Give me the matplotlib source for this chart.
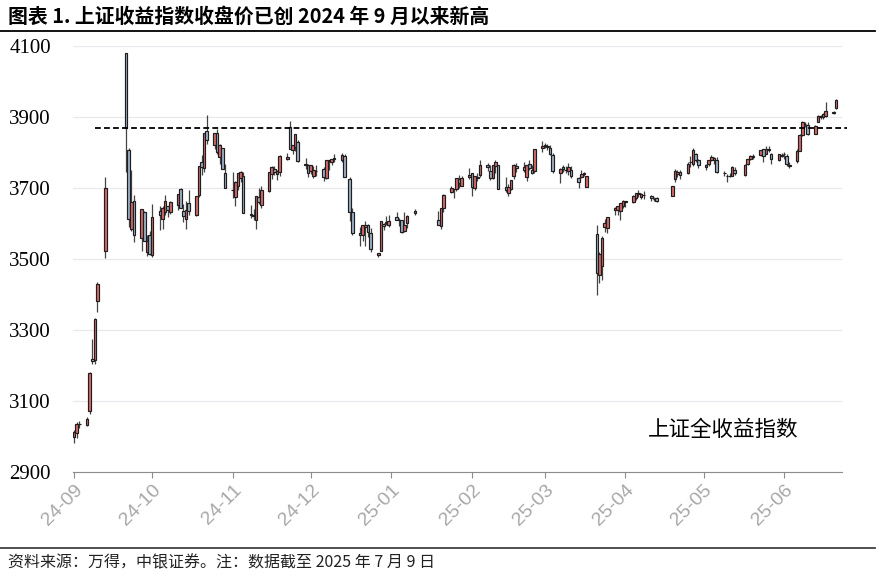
import matplotlib
matplotlib.use("Agg")
import matplotlib.pyplot as plt
import matplotlib.dates as mdates
from matplotlib.lines import Line2D
import numpy as np
import pandas as pd

## Daily candles of the index
dates = [
    # 2024-09
    "2024-09-18", "2024-09-19", "2024-09-20", "2024-09-23", "2024-09-24", "2024-09-25", "2024-09-26", "2024-09-27", "2024-09-30",
    # 2024-10
    "2024-10-08", "2024-10-09", "2024-10-10", "2024-10-11", "2024-10-14", "2024-10-15", "2024-10-16", "2024-10-17", "2024-10-18",
    "2024-10-21", "2024-10-22", "2024-10-23", "2024-10-24", "2024-10-25", "2024-10-28", "2024-10-29", "2024-10-30", "2024-10-31",
    # 2024-11
    "2024-11-01", "2024-11-04", "2024-11-05", "2024-11-06", "2024-11-07", "2024-11-08", "2024-11-11", "2024-11-12", "2024-11-13",
    "2024-11-14", "2024-11-15", "2024-11-18", "2024-11-19", "2024-11-20", "2024-11-21", "2024-11-22", "2024-11-25", "2024-11-26",
    "2024-11-27", "2024-11-28", "2024-11-29",
    # 2024-12
    "2024-12-02", "2024-12-03", "2024-12-04", "2024-12-05", "2024-12-06", "2024-12-09", "2024-12-10", "2024-12-11", "2024-12-12",
    "2024-12-13", "2024-12-16", "2024-12-17", "2024-12-18", "2024-12-19", "2024-12-20", "2024-12-23", "2024-12-24", "2024-12-25",
    "2024-12-26", "2024-12-27", "2024-12-30", "2024-12-31",
    # 2025-01
    "2025-01-02", "2025-01-03", "2025-01-06", "2025-01-07", "2025-01-08", "2025-01-09", "2025-01-10", "2025-01-13", "2025-01-14",
    "2025-01-15", "2025-01-16", "2025-01-17", "2025-01-20", "2025-01-21", "2025-01-22", "2025-01-23", "2025-01-24", "2025-01-27",
    # 2025-02
    "2025-02-05", "2025-02-06", "2025-02-07", "2025-02-10", "2025-02-11", "2025-02-12", "2025-02-13", "2025-02-14", "2025-02-17",
    "2025-02-18", "2025-02-19", "2025-02-20", "2025-02-21", "2025-02-24", "2025-02-25", "2025-02-26", "2025-02-27", "2025-02-28",
    # 2025-03
    "2025-03-03", "2025-03-04", "2025-03-05", "2025-03-06", "2025-03-07", "2025-03-10", "2025-03-11", "2025-03-12", "2025-03-13",
    "2025-03-14", "2025-03-17", "2025-03-18", "2025-03-19", "2025-03-20", "2025-03-21", "2025-03-24", "2025-03-25", "2025-03-26",
    "2025-03-27", "2025-03-28", "2025-03-31",
    # 2025-04
    "2025-04-01", "2025-04-02", "2025-04-03", "2025-04-07", "2025-04-08", "2025-04-09", "2025-04-10", "2025-04-11", "2025-04-14",
    "2025-04-15", "2025-04-16", "2025-04-17", "2025-04-18", "2025-04-21", "2025-04-22", "2025-04-23", "2025-04-24", "2025-04-25",
    "2025-04-28", "2025-04-29", "2025-04-30",
    # 2025-05
    "2025-05-06", "2025-05-07", "2025-05-08", "2025-05-09", "2025-05-12", "2025-05-13", "2025-05-14", "2025-05-15", "2025-05-16",
    "2025-05-19", "2025-05-20", "2025-05-21", "2025-05-22", "2025-05-23", "2025-05-26", "2025-05-27", "2025-05-28", "2025-05-29",
    "2025-05-30",
    # 2025-06
    "2025-06-03", "2025-06-04", "2025-06-05", "2025-06-06", "2025-06-09", "2025-06-10", "2025-06-11", "2025-06-12", "2025-06-13",
    "2025-06-16", "2025-06-17", "2025-06-18", "2025-06-19", "2025-06-20", "2025-06-23", "2025-06-24", "2025-06-25", "2025-06-26",
    "2025-06-27", "2025-06-30",
    # 2025-07
    "2025-07-01", "2025-07-02", "2025-07-03", "2025-07-04", "2025-07-07", "2025-07-08",
]

opens = [
    2999, 3011, 3035, 3033, 3072, 3217, 3215, 3381, 3523,
    4080, 3807, 3585, 3662, 3559, 3633, 3520, 3569, 3510, 3634, 3614, 3633, 3650, 3633, 3653, 3696, 3634, 3614,
    3659, 3625, 3680, 3774, 3757, 3861, 3822, 3855, 3786, 3813, 3742, 3694, 3675, 3706, 3727, 3735, 3626, 3624, 3611, 3674, 3653,
    3692, 3739, 3753, 3739, 3746, 3781, 3872, 3806, 3815, 3829, 3765, 3765, 3749, 3735, 3747, 3754, 3729, 3775, 3773, 3782, 3778, 3789,
    3726, 3631, 3574, 3568, 3589, 3597, 3572, 3512, 3523, 3599, 3605, 3595, 3618, 3611, 3611, 3580, 3601, 3630,
    3609, 3594, 3645, 3688, 3696, 3696, 3724, 3706, 3732, 3742, 3701, 3727, 3736, 3765, 3747, 3727, 3763, 3765,
    3703, 3686, 3697, 3734, 3762, 3758, 3732, 3767, 3750, 3749, 3813, 3819, 3816, 3814, 3792, 3741, 3759, 3750, 3747, 3751, 3727,
    3731, 3739, 3704, 3570, 3455, 3480, 3591, 3586, 3639, 3638, 3636, 3649, 3663, 3660, 3673, 3686, 3674, 3679, 3677, 3669, 3672,
    3678, 3725, 3740, 3746, 3742, 3772, 3768, 3795, 3780, 3760, 3769, 3778, 3784, 3778, 3743, 3735, 3733, 3734, 3752,
    3737, 3768, 3782, 3787, 3792, 3809, 3796, 3807, 3795, 3780, 3791, 3795, 3791, 3764, 3776, 3803, 3850, 3880, 3878, 3852,
    3886, 3903, 3901, 3903, 3912, 3925,
]

highs = [
    3019, 3041, 3045, 3055, 3182, 3274, 3333, 3434, 3730,
    4080, 3812, 3752, 3679, 3642, 3636, 3568, 3580, 3655, 3649, 3650, 3680, 3650, 3664, 3684, 3700, 3654, 3662,
    3693, 3678, 3763, 3794, 3855, 3905, 3855, 3865, 3824, 3813, 3767, 3744, 3721, 3742, 3747, 3746, 3652, 3640, 3677, 3700, 3705,
    3744, 3762, 3763, 3752, 3794, 3798, 3890, 3822, 3853, 3834, 3785, 3767, 3765, 3761, 3765, 3759, 3778, 3779, 3782, 3796, 3798, 3795,
    3730, 3643, 3591, 3595, 3606, 3598, 3588, 3518, 3606, 3602, 3622, 3623, 3632, 3615, 3611, 3631, 3623, 3642,
    3634, 3643, 3683, 3705, 3698, 3729, 3736, 3735, 3755, 3742, 3734, 3741, 3780, 3770, 3765, 3765, 3778, 3765,
    3732, 3710, 3723, 3768, 3770, 3773, 3764, 3778, 3766, 3809, 3831, 3828, 3823, 3820, 3798, 3756, 3766, 3762, 3771, 3762, 3732,
    3751, 3744, 3735, 3596, 3520, 3565, 3613, 3618, 3647, 3650, 3659, 3666, 3664, 3679, 3686, 3695, 3687, 3692, 3679, 3675, 3675,
    3707, 3753, 3752, 3750, 3772, 3791, 3812, 3798, 3781, 3768, 3780, 3792, 3786, 3786, 3748, 3739, 3743, 3763, 3758,
    3768, 3783, 3793, 3796, 3808, 3811, 3817, 3818, 3798, 3797, 3798, 3801, 3796, 3772, 3809, 3851, 3889, 3885, 3885, 3878,
    3905, 3907, 3910, 3942, 3918, 3951,
]

lows = [
    2982, 2995, 3024, 3030, 3062, 3204, 3204, 3350, 3503,
    3745, 3589, 3579, 3548, 3523, 3550, 3508, 3510, 3506, 3582, 3584, 3625, 3619, 3626, 3637, 3644, 3605, 3584,
    3624, 3620, 3674, 3737, 3746, 3824, 3809, 3795, 3769, 3754, 3700, 3673, 3650, 3695, 3717, 3629, 3616, 3611, 3585, 3656, 3645,
    3690, 3726, 3737, 3722, 3735, 3778, 3809, 3796, 3804, 3774, 3754, 3730, 3740, 3727, 3734, 3721, 3726, 3750, 3765, 3773, 3774, 3730,
    3608, 3567, 3537, 3551, 3536, 3562, 3520, 3505, 3523, 3581, 3596, 3589, 3610, 3592, 3574, 3577, 3588, 3625,
    3596, 3585, 3632, 3685, 3671, 3691, 3701, 3706, 3724, 3678, 3693, 3721, 3731, 3749, 3722, 3724, 3743, 3696,
    3690, 3678, 3695, 3726, 3746, 3746, 3721, 3751, 3739, 3742, 3801, 3812, 3807, 3792, 3743, 3714, 3746, 3743, 3737, 3727, 3701,
    3727, 3735, 3704, 3399, 3432, 3440, 3576, 3574, 3625, 3624, 3611, 3644, 3646, 3659, 3666, 3675, 3670, 3669, 3664, 3664, 3660,
    3677, 3718, 3730, 3726, 3740, 3760, 3763, 3774, 3756, 3751, 3763, 3777, 3768, 3743, 3734, 3718, 3731, 3733, 3737,
    3735, 3764, 3780, 3783, 3790, 3773, 3795, 3801, 3768, 3777, 3786, 3781, 3762, 3755, 3771, 3803, 3846, 3871, 3849, 3852,
    3885, 3893, 3894, 3900, 3908, 3922,
]

closes = [
    3013, 3034, 3034, 3048, 3180, 3213, 3330, 3430, 3700,
    3870, 3613, 3661, 3568, 3642, 3551, 3551, 3514, 3617, 3624, 3643, 3662, 3638, 3660, 3684, 3644, 3622, 3637,
    3635, 3677, 3763, 3759, 3855, 3835, 3855, 3801, 3821, 3754, 3700, 3693, 3717, 3742, 3744, 3630, 3625, 3621, 3677, 3661, 3695,
    3744, 3760, 3744, 3749, 3789, 3786, 3809, 3820, 3852, 3775, 3769, 3741, 3764, 3751, 3749, 3731, 3778, 3778, 3782, 3784, 3792, 3731,
    3631, 3574, 3568, 3595, 3595, 3575, 3527, 3517, 3606, 3593, 3602, 3607, 3611, 3610, 3577, 3596, 3620, 3636,
    3597, 3643, 3681, 3701, 3696, 3727, 3713, 3727, 3737, 3703, 3733, 3732, 3764, 3758, 3727, 3765, 3774, 3698,
    3694, 3703, 3723, 3766, 3756, 3750, 3764, 3755, 3741, 3809, 3817, 3820, 3817, 3797, 3747, 3754, 3753, 3752, 3758, 3733, 3716,
    3740, 3742, 3733, 3460, 3515, 3558, 3601, 3617, 3645, 3649, 3659, 3664, 3660, 3677, 3686, 3682, 3683, 3680, 3673, 3670, 3663,
    3707, 3748, 3746, 3736, 3768, 3772, 3806, 3779, 3764, 3764, 3780, 3788, 3779, 3744, 3741, 3734, 3733, 3760, 3742,
    3764, 3781, 3790, 3791, 3807, 3791, 3810, 3811, 3782, 3795, 3793, 3795, 3767, 3762, 3804, 3848, 3887, 3879, 3852, 3875,
    3903, 3900, 3908, 3918, 3915, 3948,
]

ref_date = "2024-10-08"  # close used as the dashed reference level
ref_span = ["2024-09-26", "2025-07-12"]

title = "图表 1. 上证收益指数收盘价已创 2024 年 9 月以来新高"
series_label = "上证全收益指数"
source = "资料来源：万得，中银证券。注：数据截至 2025 年 7 月 9 日"

plt.rcParams["font.family"] = ["Noto Sans CJK SC", "DejaVu Sans"]

x = pd.to_datetime(dates)
o = np.array(opens, dtype=float)
h = np.array(highs, dtype=float)
l = np.array(lows, dtype=float)
c = np.array(closes, dtype=float)
fills = np.where(c >= o, "#d96a6a", "#9fb2c6")

fig = plt.figure(figsize=(8.8, 5.76), dpi=100)
ax = fig.add_axes([73 / 880, 104 / 576, 769 / 880, 426 / 576])

# wicks under the bodies
ax.vlines(x, l, h, color="#444444", linewidth=0.9, zorder=2)
ax.bar(x, c - o, bottom=o, width=1.0, color=fills, edgecolor="#1e1e1e",
       linewidth=0.85, zorder=3)

# previous high close as a dashed level
lvl = c[dates.index(ref_date)]
ax.plot(pd.to_datetime(ref_span), [lvl, lvl], color="black", linewidth=1.3,
        linestyle=(0, (3.2, 1.8)), clip_on=False, zorder=4)

ax.set_ylim(2900, 4100)
ax.set_yticks(np.arange(2900, 4101, 200))
ax.set_xlim(pd.Timestamp("2024-09-17 14:00"), pd.Timestamp("2025-07-10 06:00"))
ax.grid(axis="y", color="#e8e8ee", linewidth=0.9)
ax.set_axisbelow(True)

for s in ["top", "right", "left"]:
    ax.spines[s].set_visible(False)
ax.spines["bottom"].set_color("#8c8c8c")
ax.spines["bottom"].set_linewidth(0.8)

ax.tick_params(axis="y", length=0, pad=16)
for lab in ax.get_yticklabels():
    lab.set_fontfamily("Liberation Serif")
    lab.set_fontsize(15)

ax.xaxis.set_major_locator(mdates.MonthLocator(bymonthday=18))
ax.xaxis.set_major_formatter(mdates.DateFormatter("%y-%m"))
ax.tick_params(axis="x", length=4, color="#8c8c8c", pad=3)
for lab in ax.get_xticklabels():
    lab.set_fontfamily("Liberation Sans")
    lab.set_fontsize(14)
    lab.set_color("#a8a8a8")
    lab.set_rotation(45)
    lab.set_ha("right")
    lab.set_va("top")
    lab.set_rotation_mode("anchor")

fig.text(648 / 880, 1 - 430 / 576, series_label, fontsize=15.5, va="center", ha="left")

fig.text(8 / 880, 1 - 16 / 576, title, fontsize=14.3, fontweight="bold", va="center", ha="left")
fig.add_artist(Line2D([0, 875 / 880], [1 - 31 / 576] * 2, color="black", linewidth=1.3))
fig.add_artist(Line2D([0, 875 / 880], [1 - 548 / 576] * 2, color="#404040", linewidth=1.3))
fig.text(8 / 880, 1 - 563 / 576, source, fontsize=11.5, va="center", ha="left", color="#222222")

fig.savefig("out.png", dpi=100)
